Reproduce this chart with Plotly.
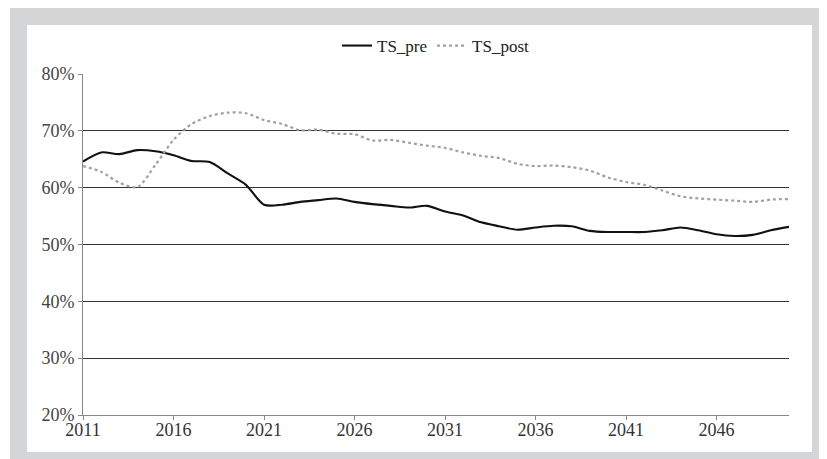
import plotly.graph_objects as go

years = list(range(2011, 2051))
ts_pre = [64.6, 66.2, 65.9, 66.6, 66.4, 65.7, 64.7, 64.5, 62.5, 60.5,
          57.0, 57.0, 57.5, 57.8, 58.1, 57.5, 57.1, 56.8, 56.5, 56.8,
          55.8, 55.1, 53.9, 53.2, 52.6, 53.0, 53.3, 53.2, 52.4, 52.2,
          52.2, 52.2, 52.5, 53.0, 52.5, 51.8, 51.5, 51.7, 52.5, 53.1]
ts_post = [63.8, 62.8, 60.9, 60.1, 64.0, 68.4, 71.2, 72.6, 73.2, 73.1,
           71.9, 71.2, 70.1, 70.2, 69.5, 69.4, 68.3, 68.4, 67.9, 67.4,
           67.0, 66.2, 65.6, 65.2, 64.2, 63.8, 63.9, 63.6, 63.0, 61.8,
           61.0, 60.5, 59.5, 58.5, 58.1, 57.9, 57.7, 57.5, 57.9, 58.0]
x_ticks = [2011, 2016, 2021, 2026, 2031, 2036, 2041, 2046]
y_ticks = [20, 30, 40, 50, 60, 70, 80]

OFF = 8  # page body margin
W, H = 827 - OFF, 459 - OFF
L, R, T, B = 83 - OFF, 789 - OFF, 74 - OFF, 415 - OFF

def px(x):
    return (x - OFF - L) / (R - L)

def py(y):
    return (B - (y - OFF)) / (B - T)

SERIF = "Liberation Serif, Times New Roman, serif"

fig = go.Figure()
fig.add_trace(go.Scatter(x=years, y=ts_pre, name="TS_pre", mode="lines",
                         line=dict(color="#111111", width=2.1, shape="spline", smoothing=0.8)))
fig.add_trace(go.Scatter(x=years, y=ts_post, name="TS_post", mode="lines",
                         line=dict(color="#a0a0a0", width=2.2, dash="3px,3px", shape="spline", smoothing=0.8)))

fig.update_layout(
    width=W, height=H,
    margin=dict(l=L, r=W - R, t=T, b=H - B, pad=0),
    paper_bgcolor="white",
    plot_bgcolor="rgba(0,0,0,0)",
    font=dict(family=SERIF, size=17, color="#333333"),
    showlegend=True,
    legend=dict(orientation="h", x=0.5, xanchor="center", y=py(46), yanchor="middle",
                font=dict(family=SERIF, size=17, color="#222222"), itemwidth=30,
                bgcolor="rgba(0,0,0,0)", tracegroupgap=0),
    shapes=[
        dict(type="rect", xref="paper", yref="paper", x0=px(10), x1=px(850), y0=py(480), y1=py(8),
             fillcolor="#d3d5d7", line=dict(width=0), layer="below"),
        dict(type="rect", xref="paper", yref="paper", x0=px(27), x1=px(812), y0=py(452), y1=py(25),
             fillcolor="white", line=dict(width=0), layer="below"),
    ],
)
fig.update_xaxes(range=[2011, 2050], tickvals=x_ticks, ticktext=[str(v) for v in x_ticks],
                 showgrid=False, zeroline=False, showline=True, linecolor="#888888", linewidth=1,
                 ticks="outside", ticklen=4, tickcolor="#888888",
                 tickfont=dict(family=SERIF, size=18, color="#333333"))
try:
    fig.update_xaxes(ticklabelstandoff=-6)
except Exception:
    pass
fig.update_yaxes(range=[20, 80], tickvals=y_ticks, ticktext=[f"{v}%" for v in y_ticks],
                 showgrid=True, gridcolor="#333333", gridwidth=1, zeroline=False,
                 showline=True, linecolor="#888888", linewidth=1,
                 ticks="outside", ticklen=4, tickcolor="#888888",
                 tickfont=dict(family=SERIF, size=18, color="#444444"))

fig.write_html("out.html")
